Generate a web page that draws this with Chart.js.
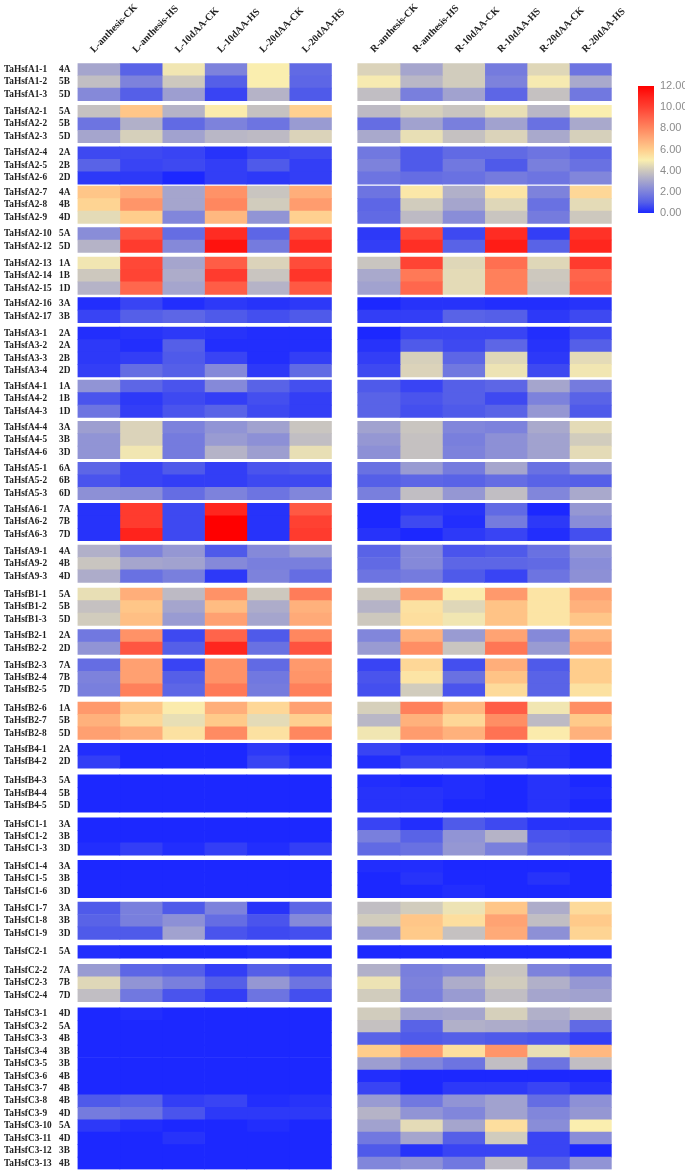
<!DOCTYPE html>
<html>
<head>
<meta charset="utf-8">
<title>TaHsf expression heatmap</title>
<script src="https://cdn.jsdelivr.net/npm/chart.js@4"></script>
<style>
    html, body { margin: 0; padding: 0; background: #fff; }
    #wrap { position: relative; width: 685px; height: 1170px; overflow: hidden; }
    #heatmap { position: absolute; left: 0; top: 0; }
    #colorbar { position: absolute; left: 625px; top: 76px; }
</style>
</head>
<body>
<div id="wrap">
    <canvas id="heatmap" width="685" height="1170"></canvas>
    <canvas id="colorbar" width="60" height="147"></canvas>
</div>
<script>
const leafSamples = ['L-anthesis-CK', 'L-anthesis-HS', 'L-10dAA-CK', 'L-10dAA-HS', 'L-20dAA-CK', 'L-20dAA-HS'];
const rootSamples = ['R-anthesis-CK', 'R-anthesis-HS', 'R-10dAA-CK', 'R-10dAA-HS', 'R-20dAA-CK', 'R-20dAA-HS'];

const geneNames = [
    'TaHsfA1-1', 'TaHsfA1-2', 'TaHsfA1-3', 'TaHsfA2-1', 'TaHsfA2-2', 'TaHsfA2-3', 'TaHsfA2-4', 'TaHsfA2-5', 'TaHsfA2-6',
    'TaHsfA2-7', 'TaHsfA2-8', 'TaHsfA2-9', 'TaHsfA2-10', 'TaHsfA2-12', 'TaHsfA2-13', 'TaHsfA2-14', 'TaHsfA2-15',
    'TaHsfA2-16', 'TaHsfA2-17', 'TaHsfA3-1', 'TaHsfA3-2', 'TaHsfA3-3', 'TaHsfA3-4', 'TaHsfA4-1', 'TaHsfA4-2', 'TaHsfA4-3',
    'TaHsfA4-4', 'TaHsfA4-5', 'TaHsfA4-6', 'TaHsfA5-1', 'TaHsfA5-2', 'TaHsfA5-3', 'TaHsfA6-1', 'TaHsfA6-2', 'TaHsfA6-3',
    'TaHsfA9-1', 'TaHsfA9-2', 'TaHsfA9-3', 'TaHsfB1-1', 'TaHsfB1-2', 'TaHsfB1-3', 'TaHsfB2-1', 'TaHsfB2-2', 'TaHsfB2-3',
    'TaHsfB2-4', 'TaHsfB2-5', 'TaHsfB2-6', 'TaHsfB2-7', 'TaHsfB2-8', 'TaHsfB4-1', 'TaHsfB4-2', 'TaHsfB4-3', 'TaHsfB4-4',
    'TaHsfB4-5', 'TaHsfC1-1', 'TaHsfC1-2', 'TaHsfC1-3', 'TaHsfC1-4', 'TaHsfC1-5', 'TaHsfC1-6', 'TaHsfC1-7', 'TaHsfC1-8',
    'TaHsfC1-9', 'TaHsfC2-1', 'TaHsfC2-2', 'TaHsfC2-3', 'TaHsfC2-4', 'TaHsfC3-1', 'TaHsfC3-2', 'TaHsfC3-3', 'TaHsfC3-4',
    'TaHsfC3-5', 'TaHsfC3-6', 'TaHsfC3-7', 'TaHsfC3-8', 'TaHsfC3-9', 'TaHsfC3-10', 'TaHsfC3-11', 'TaHsfC3-12', 'TaHsfC3-13'
];

const chromosomes = [
    '4A', '5B', '5D', '5A', '5B', '5D', '2A', '2B', '2D', '4A', '4B', '4D', '5A', '5D', '1A', '1B', '1D', '3A', '3B',
    '2A', '2A', '2B', '2D', '1A', '1B', '1D', '3A', '3B', '3D', '6A', '6B', '6D', '7A', '7B', '7D', '4A', '4B', '4D',
    '5A', '5B', '5D', '2A', '2D', '7A', '7B', '7D', '1A', '5B', '5D', '2A', '2D', '5A', '5B', '5D', '3A', '3B', '3D',
    '3A', '3B', '3D', '3A', '3B', '3D', '5A', '7A', '7B', '7D', '4D', '5A', '4B', '3B', '3B', '4B', '4B', '4B', '4D',
    '5A', '4D', '3B', '4B'
];

// how many rows sit in each block of the heatmap
const groupSizes = [3, 3, 3, 3, 2, 3, 2, 4, 3, 3, 3, 3, 3, 3, 2, 3, 3, 2, 3, 3, 3, 3, 1, 3, 13];

const leafValues = [
    [3.0, 1.1, 4.8, 2.0, 5.0, 1.3], [3.7, 2.0, 4.0, 1.0, 5.0, 1.2], [2.2, 1.0, 2.8, 0.5, 3.4, 0.9],
    [3.8, 6.2, 3.4, 5.1, 3.8, 5.9], [1.6, 3.3, 1.3, 2.0, 1.6, 2.7], [3.0, 4.2, 2.9, 3.5, 3.6, 4.3],
    [0.6, 0.6, 0.5, 0.2, 0.5, 0.6], [1.1, 0.5, 0.6, 0.4, 0.9, 0.4], [0.3, 0.3, 0.0, 0.4, 0.3, 0.4],
    [6.2, 7.0, 3.0, 7.7, 3.9, 6.9], [5.8, 7.6, 3.0, 8.0, 4.1, 7.4], [4.5, 6.0, 2.1, 6.6, 2.5, 5.9],
    [2.3, 9.5, 1.4, 10.7, 1.2, 9.8], [3.4, 10.2, 2.2, 11.5, 1.8, 10.7],
    [4.8, 9.8, 3.0, 9.2, 4.3, 9.7], [4.0, 9.9, 3.2, 10.2, 3.9, 10.4], [3.4, 8.9, 3.0, 9.2, 3.4, 9.3],
    [0.1, 0.5, 0.1, 0.3, 0.2, 0.3], [0.5, 1.0, 1.2, 0.9, 0.7, 0.9],
    [0.1, 0.2, 0.3, 0.2, 0.1, 0.1], [0.3, 0.1, 1.0, 0.1, 0.1, 0.1], [0.3, 0.4, 0.9, 0.5, 0.1, 0.4], [0.4, 1.4, 1.0, 2.2, 0.3, 1.3],
    [2.5, 1.2, 0.8, 2.2, 1.1, 0.7], [0.8, 0.3, 0.6, 0.4, 0.7, 0.4], [1.6, 0.4, 0.8, 1.1, 0.6, 0.4],
    [2.8, 4.3, 2.0, 2.5, 2.9, 3.9], [2.5, 4.3, 1.8, 2.7, 2.4, 3.7], [2.5, 4.8, 1.8, 3.4, 2.8, 4.6],
    [1.2, 0.5, 0.9, 0.4, 0.8, 0.9], [0.8, 0.5, 0.4, 0.4, 0.6, 0.6], [2.4, 2.3, 1.4, 2.0, 1.6, 2.1],
    [0.2, 10.2, 0.6, 10.9, 0.2, 9.3], [0.2, 10.2, 0.6, 12.0, 0.2, 10.0], [0.2, 11.0, 0.6, 12.0, 0.2, 10.2],
    [3.3, 2.0, 2.6, 0.9, 2.2, 2.7], [3.9, 3.0, 2.9, 2.2, 1.9, 1.9], [3.2, 1.5, 1.9, 0.3, 2.0, 1.4],
    [4.6, 6.9, 3.6, 7.7, 4.0, 8.3], [3.8, 6.2, 3.0, 6.5, 3.2, 6.8], [4.1, 6.4, 2.7, 7.3, 3.0, 7.0],
    [1.7, 7.7, 0.6, 9.0, 0.9, 8.0], [2.5, 9.4, 1.0, 10.9, 1.5, 9.5],
    [1.4, 7.3, 0.5, 7.7, 1.3, 7.5], [2.0, 7.3, 1.0, 7.7, 1.7, 7.6], [1.9, 8.2, 1.2, 8.4, 1.8, 8.2],
    [7.5, 6.2, 5.1, 6.9, 5.7, 7.3], [6.8, 5.7, 4.6, 6.1, 4.5, 5.9], [7.3, 6.9, 5.4, 7.9, 5.4, 8.0],
    [0.1, 0.0, 0.0, 0.0, 0.3, 0.0], [0.4, 0.0, 0.0, 0.0, 0.5, 0.1],
    [0.0, 0.0, 0.0, 0.0, 0.0, 0.0], [0.0, 0.0, 0.0, 0.0, 0.0, 0.0], [0.0, 0.0, 0.0, 0.0, 0.0, 0.0],
    [0.0, 0.0, 0.0, 0.0, 0.0, 0.0], [0.0, 0.0, 0.0, 0.0, 0.0, 0.0], [0.1, 0.4, 0.1, 0.4, 0.1, 0.4],
    [0.0, 0.0, 0.0, 0.0, 0.0, 0.0], [0.0, 0.0, 0.0, 0.0, 0.0, 0.0], [0.0, 0.0, 0.0, 0.0, 0.0, 0.0],
    [0.9, 1.9, 0.9, 2.0, 0.2, 1.2], [1.1, 1.9, 2.4, 1.4, 0.8, 2.2], [0.9, 0.9, 2.9, 0.8, 0.6, 0.7],
    [0.1, 0.0, 0.0, 0.0, 0.1, 0.0],
    [2.7, 1.2, 1.0, 0.4, 1.0, 0.7], [4.4, 2.5, 1.9, 1.0, 2.6, 1.6], [3.7, 1.7, 0.8, 0.4, 1.6, 0.7],
    [0.0, 0.1, 0.0, 0.0, 0.0, 0.0], [0.0, 0.0, 0.0, 0.0, 0.0, 0.0], [0.0, 0.0, 0.0, 0.0, 0.0, 0.0],
    [0.0, 0.0, 0.0, 0.0, 0.0, 0.0], [0.0, 0.0, 0.0, 0.0, 0.0, 0.0], [0.0, 0.0, 0.0, 0.0, 0.0, 0.0],
    [0.0, 0.0, 0.0, 0.0, 0.0, 0.0], [0.9, 1.1, 0.4, 0.5, 0.1, 0.2], [1.8, 1.6, 0.8, 0.3, 0.3, 0.3],
    [0.3, 0.1, 0.0, 0.0, 0.1, 0.0], [0.0, 0.0, 0.2, 0.0, 0.0, 0.0], [0.0, 0.0, 0.0, 0.0, 0.0, 0.0], [0.0, 0.0, 0.0, 0.0, 0.0, 0.0]
];

const rootValues = [
    [4.3, 3.0, 4.1, 1.8, 4.4, 1.6], [4.9, 3.5, 4.1, 2.0, 4.9, 3.1], [3.7, 1.9, 2.9, 1.2, 3.8, 1.7],
    [3.6, 4.2, 3.9, 4.6, 3.5, 5.0], [1.4, 2.9, 1.9, 2.9, 1.5, 3.1], [3.1, 4.6, 3.8, 4.3, 3.1, 4.2],
    [1.7, 0.9, 1.3, 1.3, 1.6, 1.2], [2.0, 0.9, 1.7, 0.9, 1.9, 1.5], [1.6, 1.4, 1.5, 1.8, 1.6, 2.1],
    [1.6, 5.2, 3.3, 5.3, 2.0, 5.7], [1.2, 4.1, 3.0, 4.4, 1.5, 4.5], [1.3, 3.6, 2.3, 3.9, 1.8, 4.0],
    [0.3, 9.8, 0.6, 10.7, 0.4, 10.5], [0.4, 10.6, 1.1, 11.2, 1.1, 10.9],
    [3.9, 9.9, 4.4, 8.7, 4.4, 10.2], [3.1, 8.4, 4.5, 8.2, 4.0, 9.0], [2.9, 8.9, 4.5, 8.2, 3.9, 9.2],
    [0.0, 0.2, 0.2, 0.1, 0.1, 0.2], [0.4, 0.4, 1.1, 1.0, 0.3, 0.6],
    [0.0, 0.5, 0.5, 0.5, 0.1, 0.6], [0.2, 0.9, 0.6, 1.2, 0.2, 1.0], [0.4, 4.2, 1.2, 4.4, 0.3, 4.5], [0.6, 4.3, 1.7, 4.7, 0.6, 4.8],
    [0.9, 0.5, 1.0, 1.2, 3.0, 1.8], [1.1, 0.8, 1.0, 0.6, 2.0, 1.1], [1.1, 0.7, 0.9, 1.1, 2.6, 0.9],
    [2.9, 3.9, 2.1, 2.0, 3.1, 4.5], [2.6, 3.8, 1.9, 2.4, 2.9, 4.1], [2.4, 3.8, 2.0, 2.4, 2.9, 4.5],
    [1.5, 2.7, 1.8, 3.0, 1.5, 2.5], [1.0, 1.2, 1.1, 1.4, 1.1, 1.0], [1.9, 3.7, 2.6, 3.7, 2.1, 3.1],
    [0.0, 0.3, 0.2, 1.3, 0.0, 2.6], [0.0, 0.6, 0.1, 1.8, 0.3, 2.3], [0.2, 0.0, 0.3, 0.5, 0.1, 0.7],
    [1.1, 2.2, 0.8, 0.9, 1.5, 2.5], [1.3, 2.2, 1.2, 1.2, 1.3, 2.3], [1.6, 1.8, 0.9, 0.5, 1.6, 2.4],
    [4.0, 7.3, 5.1, 7.5, 5.3, 7.2], [3.4, 5.4, 4.4, 6.3, 5.3, 6.8], [4.0, 5.5, 4.8, 6.3, 5.3, 6.2],
    [2.1, 6.8, 2.7, 7.2, 2.2, 6.7], [2.7, 7.8, 3.9, 8.5, 2.7, 7.3],
    [0.5, 5.7, 0.7, 6.9, 0.9, 6.0], [0.8, 5.3, 1.5, 6.3, 1.1, 6.0], [0.7, 4.1, 0.8, 5.6, 1.1, 5.4],
    [4.2, 8.2, 6.6, 9.2, 4.8, 7.8], [3.5, 6.8, 5.7, 7.8, 3.6, 6.1], [4.8, 7.4, 6.8, 8.6, 5.1, 6.8],
    [0.5, 0.2, 0.2, 0.0, 0.2, 0.0], [0.1, 0.5, 0.5, 0.4, 0.2, 0.0],
    [0.1, 0.0, 0.1, 0.0, 0.2, 0.0], [0.2, 0.2, 0.1, 0.0, 0.2, 0.1], [0.2, 0.2, 0.0, 0.0, 0.2, 0.0],
    [0.5, 0.1, 0.9, 0.6, 0.2, 0.2], [1.9, 1.1, 2.5, 3.4, 0.8, 0.7], [1.3, 1.5, 2.6, 1.9, 1.0, 0.9],
    [0.1, 0.1, 0.0, 0.0, 0.0, 0.0], [0.0, 0.2, 0.0, 0.0, 0.2, 0.0], [0.0, 0.0, 0.1, 0.0, 0.0, 0.0],
    [3.7, 4.1, 4.7, 6.2, 3.2, 5.6], [4.1, 6.2, 5.5, 7.2, 3.7, 6.1], [2.7, 6.1, 3.8, 7.0, 2.4, 5.8],
    [0.0, 0.0, 0.0, 0.0, 0.0, 0.0],
    [3.3, 1.9, 2.1, 3.9, 2.0, 1.5], [4.7, 2.0, 3.2, 4.1, 3.3, 2.6], [4.1, 1.9, 2.7, 3.7, 3.0, 2.9],
    [4.1, 2.9, 3.0, 4.2, 3.3, 3.7], [3.8, 1.1, 3.3, 3.2, 3.0, 1.3], [1.1, 0.9, 1.0, 0.9, 0.8, 0.4],
    [6.0, 7.5, 5.5, 7.6, 4.6, 6.6], [2.8, 2.1, 1.6, 3.7, 1.6, 3.7], [0.1, 0.0, 0.0, 0.0, 0.0, 0.0],
    [0.5, 0.0, 0.3, 0.3, 0.5, 0.2], [2.7, 1.7, 2.5, 2.9, 1.4, 2.4], [3.4, 2.5, 2.1, 2.9, 2.1, 2.6],
    [2.9, 4.5, 3.0, 5.5, 2.3, 5.0], [1.7, 3.0, 1.0, 4.1, 0.5, 2.3], [0.9, 0.2, 0.5, 0.5, 0.5, 0.0], [2.1, 2.4, 1.7, 3.6, 1.0, 2.5]
];

// colour scale, one stop per unit of the legend
const scaleColors = [
    [28, 40, 255], [85, 95, 232], [125, 130, 220], [165, 165, 205], [205, 200, 190], [250, 238, 175], [255, 205, 140],
    [255, 170, 120], [255, 135, 95], [255, 100, 75], [255, 65, 50], [255, 35, 28], [255, 0, 0]
];

function colorFor(value) {
    const low = Math.min(Math.floor(value), scaleColors.length - 2);
    const t = value - low;
    const c = scaleColors[low].map((v, i) => Math.round(v + (scaleColors[low + 1][i] - v) * t));
    return `rgb(${c[0]},${c[1]},${c[2]})`;
}

// layout: spacing in y-scale units, gaps between blocks as measured
const rowHeight = 12.42;
const groupGaps = [4.74, 4.14, 2.04, 4.04, 4.56, 3.34, 4.56, 3.32, 3.74, 3.74, 3.74, 4.34, 5.74, 4.14, 4.46, 5.74, 4.04,
    6.56, 5.74, 5.04, 4.44, 6.34, 6.28, 6.04];
const panelGap = 0.62;

const rowCenters = [];
let yCursor = 0;
groupSizes.forEach((size, g) => {
    for (let i = 0; i < size; i++) {
        rowCenters.push(yCursor + rowHeight / 2);
        yCursor += rowHeight;
    }
    if (g < groupGaps.length) yCursor += groupGaps[g];
});

const allSamples = leafSamples.concat(rootSamples);
const colStart = index => index + (index >= leafSamples.length ? panelGap : 0);

const datasets = allSamples.map((sample, col) => {
    const columnValues = rowCenters.map((_, row) =>
        col < 6 ? leafValues[row][col] : rootValues[row][col - 6]);
    return {
        label: sample,
        data: rowCenters.map(y => ({ x: [colStart(col), colStart(col) + 1], y: y })),
        backgroundColor: columnValues.map(colorFor),
        borderWidth: 0,
        grouped: false,
        barPercentage: 1,
        categoryPercentage: 1
    };
});

const sampleFont = { family: '"Liberation Serif", serif', size: 10, weight: 'bold' };
const rowFont = { family: '"Liberation Serif", serif', size: 9.3, weight: 'bold' };

// the tick labels must not push the plot area around, it is placed by hand
function clearPadding(axis) {
    axis.paddingTop = 0;
    axis.paddingBottom = 0;
    axis.paddingLeft = 0;
    axis.paddingRight = 0;
}

new Chart(document.getElementById('heatmap'), {
    type: 'bar',
    data: { datasets: datasets },
    options: {
        indexAxis: 'y',
        responsive: false,
        animation: false,
        devicePixelRatio: 1,
        layout: { padding: { left: 4, right: 73.3, top: 0, bottom: 0.5 } },
        plugins: { legend: { display: false }, tooltip: { enabled: false } },
        scales: {
            x: {
                type: 'linear',
                position: 'top',
                min: 0,
                max: allSamples.length + panelGap,
                grid: { display: false, drawTicks: false },
                border: { display: false },
                afterBuildTicks: axis => {
                    axis.ticks = allSamples.map((_, col) => ({ value: colStart(col) + 0.55 }));
                },
                afterFit: axis => { axis.height = 63.3; clearPadding(axis); },
                ticks: {
                    autoSkip: false,
                    minRotation: 46,
                    maxRotation: 46,
                    padding: 8,
                    color: '#222',
                    font: sampleFont,
                    callback: (value, index) => allSamples[index]
                }
            },
            y: {
                type: 'linear',
                position: 'left',
                weight: 2,
                reverse: true,
                offset: false,
                min: 0,
                max: yCursor,
                grid: { display: false, drawTicks: false },
                border: { display: false },
                afterBuildTicks: axis => {
                    axis.ticks = rowCenters.map(v => ({ value: v }));
                },
                afterFit: axis => { axis.width = 55; clearPadding(axis); },
                ticks: {
                    autoSkip: false,
                    crossAlign: 'far',
                    color: '#222',
                    font: rowFont,
                    callback: (value, index) => geneNames[index]
                }
            },
            yChrom: {
                type: 'linear',
                position: 'left',
                display: true,
                weight: 1,
                reverse: true,
                offset: false,
                min: 0,
                max: yCursor,
                grid: { display: false, drawTicks: false },
                border: { display: false },
                afterBuildTicks: axis => {
                    axis.ticks = rowCenters.map(v => ({ value: v }));
                },
                afterFit: axis => { axis.width = 18.5; clearPadding(axis); },
                ticks: {
                    autoSkip: false,
                    crossAlign: 'far',
                    color: '#222',
                    font: rowFont,
                    callback: (value, index) => chromosomes[index]
                }
            }
        }
    }
});

// legend bar, a single floating bar filled with the colour scale
new Chart(document.getElementById('colorbar'), {
    type: 'bar',
    data: {
        labels: [''],
        datasets: [{
            data: [[0, 12]],
            borderWidth: 0,
            barPercentage: 1,
            categoryPercentage: 1,
            backgroundColor: context => {
                const area = context.chart.chartArea;
                if (!area) return 'rgb(28,40,255)';
                const gradient = context.chart.ctx.createLinearGradient(0, area.bottom, 0, area.top);
                scaleColors.forEach((_, i) => gradient.addColorStop(i / 12, colorFor(i)));
                return gradient;
            }
        }]
    },
    options: {
        responsive: false,
        animation: false,
        devicePixelRatio: 1,
        layout: { padding: { left: 13, right: 0, top: 10, bottom: 10 } },
        plugins: { legend: { display: false }, tooltip: { enabled: false } },
        scales: {
            x: { display: false },
            y: {
                position: 'right',
                min: 0,
                max: 12,
                grid: { display: false, drawTicks: false },
                border: { display: false },
                afterFit: axis => { axis.width = 31; clearPadding(axis); },
                ticks: {
                    stepSize: 2,
                    padding: 6,
                    color: '#8c8c8c',
                    font: { family: '"Liberation Sans", sans-serif', size: 11 },
                    callback: value => value.toFixed(2)
                }
            }
        }
    }
});
</script>
</body>
</html>
